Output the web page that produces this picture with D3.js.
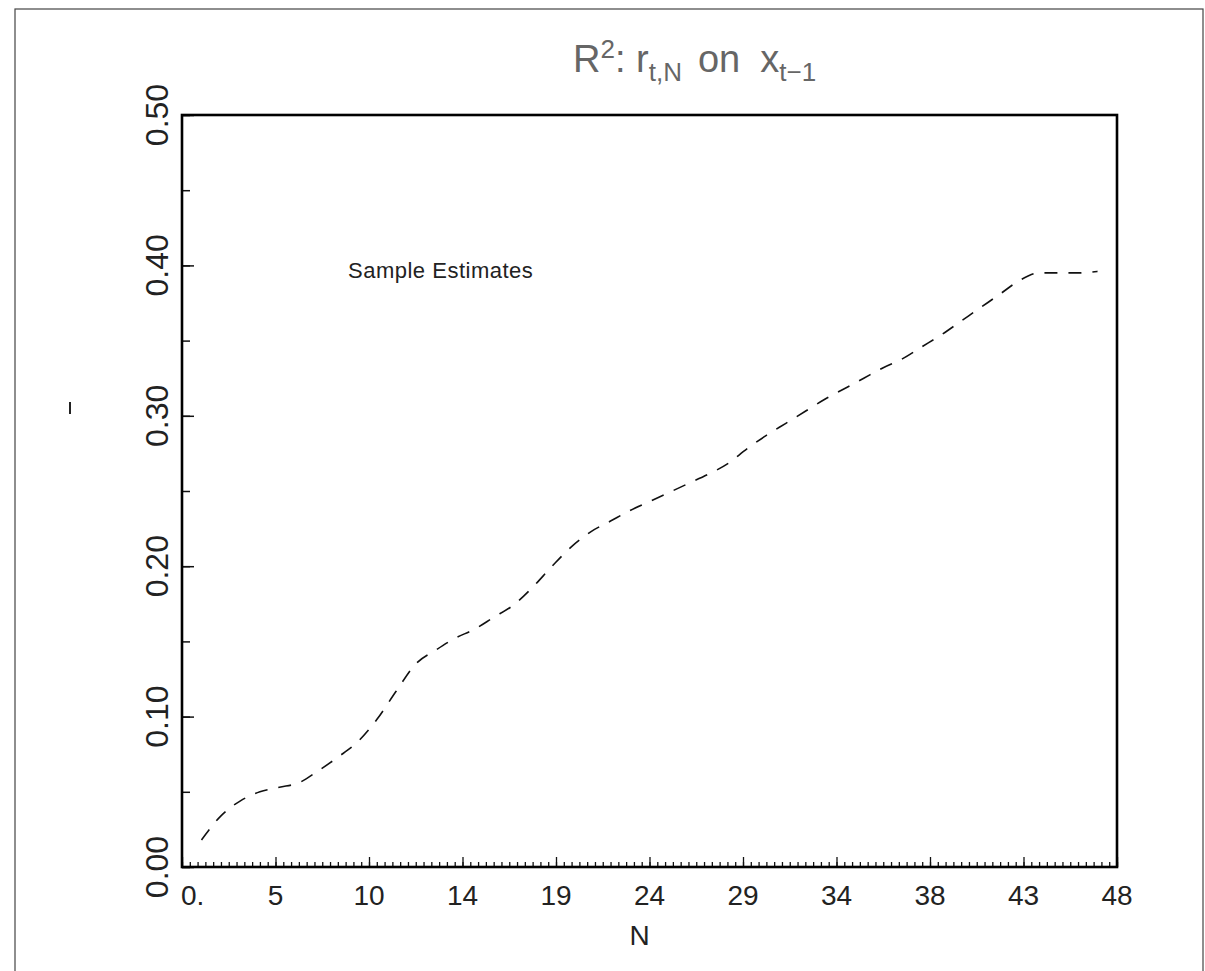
<!DOCTYPE html>
<html>
<head>
<meta charset="utf-8">
<script src="https://cdn.jsdelivr.net/npm/d3@7"></script>
<style>
  body { margin: 0; background: #fff; }
  svg { display: block; }
  text { font-family: "Liberation Sans", Arial, sans-serif; fill: #222; }
</style>
</head>
<body>
<svg width="1205" height="971"></svg>
<script>
// horizon N and sample R^2 estimates
const horizon = [1, 2, 3, 4, 5, 6, 7, 8, 9, 10, 11, 12, 13, 14, 15, 16, 17, 18, 19, 20,
                 21, 22, 23, 24, 25, 26, 27, 28, 29, 30, 31, 32, 33, 34, 35, 36, 37, 38, 39, 40,
                 41, 42, 43, 44, 45, 46, 47];
const r2 = [0.018, 0.034, 0.044, 0.050, 0.053, 0.056, 0.064, 0.073, 0.083, 0.098,
            0.117, 0.135, 0.144, 0.152, 0.158, 0.166, 0.174, 0.186, 0.200, 0.213,
            0.223, 0.230, 0.237, 0.243, 0.249, 0.255, 0.261, 0.268, 0.278, 0.287,
            0.295, 0.303, 0.311, 0.318, 0.325, 0.332, 0.338, 0.346, 0.354, 0.363,
            0.372, 0.381, 0.390, 0.395, 0.395, 0.395, 0.396];

const xTicks = [0, 4.8, 9.6, 14.4, 19.2, 24, 28.8, 33.6, 38.4, 43.2, 48];
const xTickLabels = ["0.", "5", "10", "14", "19", "24", "29", "34", "38", "43", "48"];
const yTicks = [0, 0.1, 0.2, 0.3, 0.4, 0.5];
const yTickLabels = ["0.00", "0.10", "0.20", "0.30", "0.40", "0.50"];

const svg = d3.select("svg"),
      margin = {top: 115, right: 88, bottom: 104, left: 182},
      width = +svg.attr("width") - margin.left - margin.right,
      height = +svg.attr("height") - margin.top - margin.bottom;

// outer page frame
svg.append("rect")
   .attr("x", 15).attr("y", 9)
   .attr("width", 1188).attr("height", 1000)
   .attr("fill", "none").attr("stroke", "#444").attr("stroke-width", 1.2);

// stray scan mark on the left
svg.append("line")
   .attr("x1", 70).attr("x2", 70).attr("y1", 402).attr("y2", 414)
   .attr("stroke", "#222").attr("stroke-width", 2);

const chartArea = svg.append("g")
                     .attr("transform", `translate(${margin.left},${margin.top})`);

const x = d3.scaleLinear().domain([0, 48]).range([0, width]);
const y = d3.scaleLinear().domain([0, 0.5]).range([height, 0]);

// minor ticks
chartArea.append("g")
   .attr("transform", `translate(0,${height})`)
   .call(d3.axisBottom(x).tickValues(d3.range(0, 48.01, 0.4)).tickSize(-5).tickFormat(""))
   .call(g => g.select(".domain").remove())
   .call(g => g.selectAll("line").attr("stroke", "#111").attr("stroke-width", 1.3));

chartArea.append("g")
   .call(d3.axisLeft(y).tickValues(d3.range(0, 0.501, 0.05)).tickSize(-8).tickFormat(""))
   .call(g => g.select(".domain").remove())
   .call(g => g.selectAll("line").attr("stroke", "#111").attr("stroke-width", 1.5));

// major ticks
chartArea.append("g")
   .attr("transform", `translate(0,${height})`)
   .call(d3.axisBottom(x).tickValues(xTicks).tickSize(-10).tickFormat(""))
   .call(g => g.select(".domain").remove())
   .call(g => g.selectAll("line").attr("stroke", "#111").attr("stroke-width", 1.3));

chartArea.append("g")
   .call(d3.axisLeft(y).tickValues(yTicks).tickSize(-12).tickFormat(""))
   .call(g => g.select(".domain").remove())
   .call(g => g.selectAll("line").attr("stroke", "#111").attr("stroke-width", 1.5));

// plot frame
chartArea.append("rect")
   .attr("width", width).attr("height", height)
   .attr("fill", "none").attr("stroke", "#000").attr("stroke-width", 2.6);

// x tick labels
chartArea.selectAll(".xlab")
   .data(xTicks)
   .enter().append("text")
   .attr("class", "xlab")
   .attr("x", (d, i) => i === 0 ? x(d) - 1 : x(d))
   .attr("y", height + 38)
   .attr("text-anchor", (d, i) => i === 0 ? "start" : "middle")
   .style("font-size", "28px")
   .text((d, i) => xTickLabels[i]);

// y tick labels, rotated
chartArea.selectAll(".ylab")
   .data(yTicks)
   .enter().append("text")
   .attr("class", "ylab")
   .attr("transform", d => `translate(-14,${y(d)}) rotate(-90)`)
   .attr("text-anchor", "middle")
   .style("font-size", "32px")
   .text((d, i) => yTickLabels[i]);

// axis title
chartArea.append("text")
   .attr("x", width / 2 - 10)
   .attr("y", height + 78)
   .attr("text-anchor", "middle")
   .style("font-size", "28px")
   .text("N");

// dashed series
const line = d3.line()
   .x((d, i) => x(horizon[i]))
   .y(d => y(d))
   .curve(d3.curveMonotoneX);

chartArea.append("path")
   .datum(r2)
   .attr("d", line)
   .attr("fill", "none")
   .attr("stroke", "#111")
   .attr("stroke-width", 1.6)
   .attr("stroke-dasharray", "13,11");

chartArea.append("text")
   .attr("x", 348 - margin.left)
   .attr("y", 278 - margin.top)
   .style("font-size", "22px")
   .style("letter-spacing", "0.5px")
   .text("Sample Estimates");

// title
const title = svg.append("text")
   .attr("x", 573)
   .attr("y", 72)
   .style("font-size", "38px")
   .style("fill", "#666");
title.append("tspan").text("R");
title.append("tspan").attr("dy", -14).style("font-size", "26px").text("2");
title.append("tspan").attr("dy", 14).text(": r");
title.append("tspan").attr("dy", 9).style("font-size", "26px").text("t,N");
title.append("tspan").attr("dy", -9).attr("dx", 16).text("on");
title.append("tspan").attr("dx", 20).text("x");
title.append("tspan").attr("dy", 9).style("font-size", "26px").text("t\u22121");
</script>
</body>
</html>
